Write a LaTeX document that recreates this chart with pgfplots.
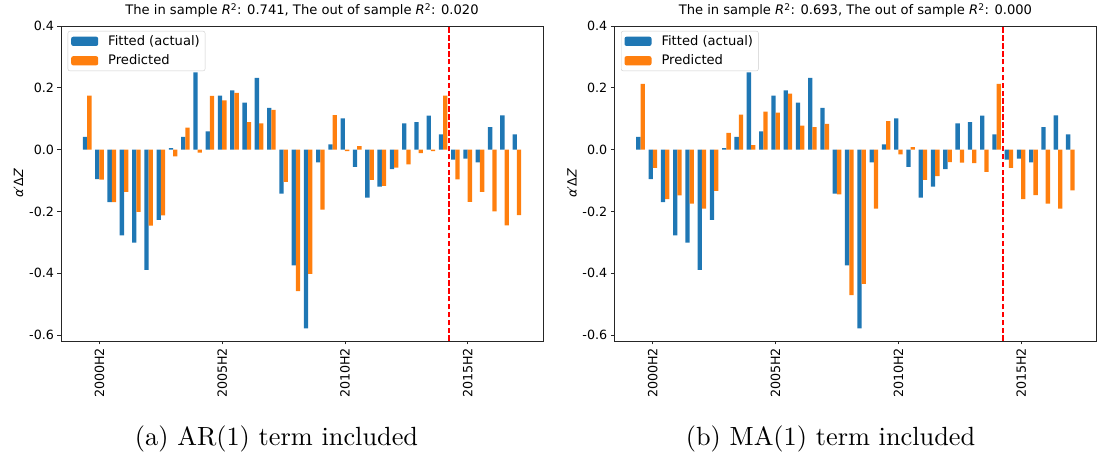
\documentclass[border=0pt]{standalone}
\usepackage{fontspec}
\usepackage{pgfplots}
\usepackage{pgfplotstable}
\pgfplotsset{compat=1.18}

\newfontfamily\dejavu{DejaVu Sans}
\newcommand{\plotfont}{\dejavu\fontsize{12.7}{15}\selectfont}
\newcommand{\titlefont}{\dejavu\fontsize{13.1}{15}\selectfont}
\definecolor{mplblue}{HTML}{1F77B4}
\definecolor{mplorange}{HTML}{FF7F0E}
\definecolor{mplred}{HTML}{FF0000}

% Half-yearly alpha'Delta Z: index 0 = 2000H1
\pgfplotstableread{
idx actual  ar      ma
0   0.041   0.175   0.213
1  -0.095  -0.097  -0.059
2  -0.170  -0.170  -0.160
3  -0.277  -0.137  -0.148
4  -0.301  -0.201  -0.175
5  -0.389  -0.246  -0.191
6  -0.227  -0.213  -0.133
7   0.005  -0.022   0.054
8   0.041   0.071   0.113
9   0.250  -0.010   0.015
10  0.059   0.174   0.123
11  0.175   0.159   0.120
12  0.192   0.184   0.181
13  0.152   0.089   0.078
14  0.232   0.085   0.073
15  0.135   0.129   0.083
16 -0.142  -0.104  -0.145
17 -0.374  -0.458  -0.471
18 -0.578  -0.402  -0.434
19 -0.041  -0.194  -0.191
20  0.017   0.112   0.092
21  0.101  -0.005  -0.015
22 -0.056   0.011   0.008
23 -0.155  -0.098  -0.098
24 -0.120  -0.117  -0.086
25 -0.063  -0.058  -0.040
26  0.085  -0.048  -0.042
27  0.089  -0.011  -0.044
28  0.110  -0.005  -0.072
29  0.049   0.175   0.213
30 -0.032  -0.096  -0.059
31 -0.029  -0.169  -0.160
32 -0.041  -0.137  -0.147
33  0.073  -0.200  -0.175
34  0.111  -0.245  -0.191
35  0.049  -0.212  -0.132
}\sdata

% Start of the out-of-sample period
\pgfplotstableread{
x     y
29.5 -0.619
29.5  0.4
}\splitline

\pgfplotsset{
  patchlegend/.style={legend image code/.code={\fill[##1] (0pt,-4.6pt) rectangle (27pt,4.6pt);}},
  fittedbar/.style={ybar, bar width=0.35, bar shift=-0.175, fill=mplblue, draw=none, patchlegend},
  predbar/.style={ybar, bar width=0.35, bar shift=0.175, fill=mplorange, draw=none, patchlegend},
  splitstyle/.style={draw=mplred, color=mplred, line width=1.6pt,
    dash pattern=on 5.5pt off 2.4pt, mark=none, forget plot},
  panel/.style={
    scale only axis, width=482pt, height=315pt,
    xmin=-2.135, xmax=37.135, ymin=-0.619, ymax=0.4,
    axis line style={black!85, line width=0.8pt},
    tick align=outside, tick pos=left, major tick length=3.5pt,
    every tick/.style={black!85, line width=0.8pt},
    xtick={1,11,21,31}, xticklabels={2000H2,2005H2,2010H2,2015H2},
    ytick={-0.6,-0.4,-0.2,0,0.2,0.4},
    yticklabels={-0.6,-0.4,-0.2,0.0,0.2,0.4},
    tick label style={font=\plotfont},
    xticklabel style={rotate=90, anchor=east},
    title style={font=\titlefont, at={(0.5,1)}, anchor=base, yshift=5.5pt},
    ylabel={\textit{α}′Δ\textit{Z}},
    ylabel style={font=\plotfont, at={(axis description cs:-0.0878,0.5)}, anchor=center},
    legend style={at={(0,1)}, anchor=north west, xshift=6.7pt, yshift=-5pt,
      draw=black!20, rounded corners=2pt, font=\titlefont, fill=white,
      inner xsep=3.3pt, inner ysep=2.4pt, row sep=4pt,
      /tikz/every odd column/.append style={column sep=8pt}},
    legend cell align=left,
  },
}

\begin{document}
\begin{tikzpicture}
\path (0,0) rectangle (1097pt,-452pt);

% (a) AR(1) panel
\begin{axis}[panel, at={(61pt,-335pt)}, anchor=south west,
  title={The in sample \textit{R}\textsuperscript{2}: 0.741, The out of sample \textit{R}\textsuperscript{2}: 0.020}]
  \addplot[fittedbar] table[x=idx, y=actual] {\sdata};
  \addplot[predbar] table[x=idx, y=ar] {\sdata};
  \addplot[splitstyle] table {\splitline};
  \legend{Fitted (actual), Predicted}
\end{axis}

% (b) MA(1) panel
\begin{axis}[panel, width=482.2pt, at={(614.3pt,-335pt)}, anchor=south west,
  title={The in sample \textit{R}\textsuperscript{2}: 0.693, The out of sample \textit{R}\textsuperscript{2}: 0.000}]
  \addplot[fittedbar] table[x=idx, y=actual] {\sdata};
  \addplot[predbar] table[x=idx, y=ma] {\sdata};
  \addplot[splitstyle] table {\splitline};
  \legend{Fitted (actual), Predicted}
\end{axis}

\node[anchor=base, scale=2.63, transform shape, font=\fontsize{10}{12}\selectfont]
  at (276.5pt,-440pt) {(a) AR(1) term included};
\node[anchor=base, scale=2.63, transform shape, font=\fontsize{10}{12}\selectfont]
  at (830.5pt,-440pt) {(b) MA(1) term included};
\end{tikzpicture}
\end{document}
